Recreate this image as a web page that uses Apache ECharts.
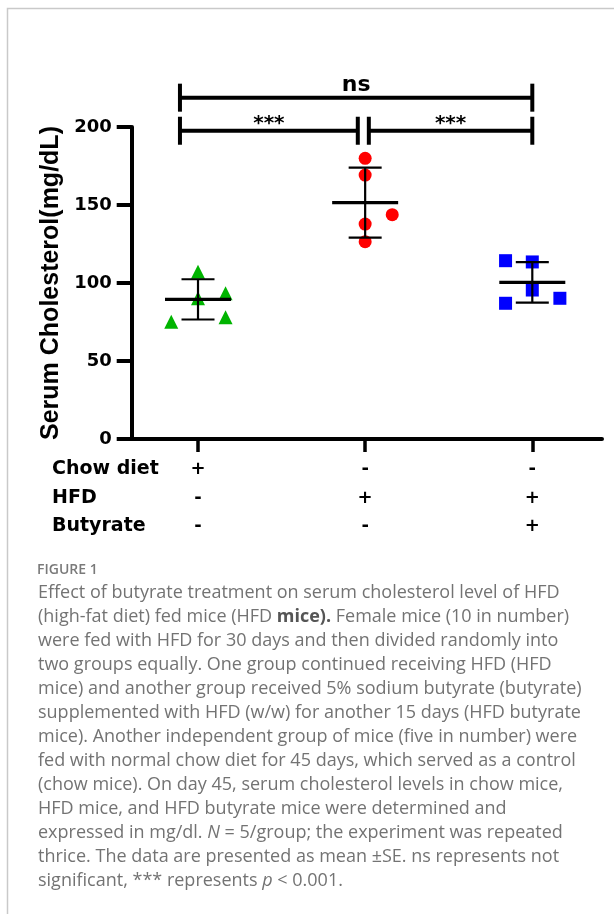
<!DOCTYPE html>
<html>
<head>
<meta charset="utf-8">
<script src="https://cdn.jsdelivr.net/npm/echarts@6/dist/echarts.min.js"></script>
<style>
html,body{margin:0;padding:0;background:#fff;}
#chart{width:614px;height:914px;}
</style>
</head>
<body>
<div id="chart"></div>
<script>
// ---------- data ----------
const groupPositions = [1, 2, 3];
const chowValues = [75.2, 107.2, 90.2, 93.4, 78.0];
const chowJitter = [-0.16, 0, 0, 0.165, 0.165];
const hfdValues = [179.9, 169.2, 143.8, 137.8, 126.5];
const hfdJitter = [0, 0, 0.162, 0, 0];
const butyrateValues = [114.3, 113.5, 95.5, 90.2, 87.0];
const butyrateJitter = [-0.16, 0, 0, 0.165, -0.16];
const meanValues = [89.5, 151.5, 100.4];
const errorValues = [12.9, 22.4, 13.0];
const yTicks = [0, 50, 100, 150, 200];
const rowLabels = ['Chow diet', 'HFD', 'Butyrate'];
const chowDietRow = ['+', '-', '-'];
const hfdRow = ['-', '+', '+'];
const butyrateRow = ['-', '-', '+'];
const sigFrom = [0.892, 2.022, 0.892];
const sigTo = [1.956, 3.0, 3.0];
const sigLevel = [197.6, 197.6, 218.8];
const sigLabels = ['***', '***', 'ns'];
const yAxisTitle = 'Serum Cholesterol(mg/dL)';
const figureLabel = 'FIGURE 1';
const captionLines = [
  'Effect of butyrate treatment on serum cholesterol level of HFD',
  '(high-fat diet) fed mice (HFD {b|mice).} Female mice (10 in number)',
  'were fed with HFD for 30 days and then divided randomly into',
  'two groups equally. One group continued receiving HFD (HFD',
  'mice) and another group received 5% sodium butyrate (butyrate)',
  'supplemented with HFD (w/w) for another 15 days (HFD butyrate',
  'mice). Another independent group of mice (five in number) were',
  'fed with normal chow diet for 45 days, which served as a control',
  '(chow mice). On day 45, serum cholesterol levels in chow mice,',
  'HFD mice, and HFD butyrate mice were determined and',
  'expressed in mg/dl. {i|N} = 5/group; the experiment was repeated',
  'thrice. The data are presented as mean \u00B1SE. ns represents not',
  'significant, *** represents {i|p} < 0.001.'
];

// ---------- build ----------
const BOLD = 'DejaVu Sans';
function pts(vals, jit, g) { return vals.map((v, i) => [groupPositions[g] + jit[i], v]); }
const errData = groupPositions.map((x, i) => [x, meanValues[i], errorValues[i]]);
const sigData = sigFrom.map((f, i) => [f, sigTo[i], sigLevel[i], i]);

const chart = echarts.init(document.getElementById('chart'), null, {renderer: 'canvas'});

const captionFont = '"Open Sans", sans-serif';
const captionColor = '#737373';
const graphics = [
  {type: 'polyline', silent: true, shape: {points: [[7.5, 914], [7.5, 8.5], [614, 8.5]]},
   style: {stroke: '#c9c9c9', lineWidth: 1.5, fill: null}},
  {type: 'text', left: 37, top: 563, style: {text: figureLabel, fontFamily: captionFont, fontWeight: 600, fontSize: 14, fill: '#7a7a7a'}}
];
captionLines.forEach((t, k) => {
  graphics.push({type: 'text', left: 38, top: 583.5 + k * 24.03, style: {
    text: t, fontFamily: captionFont, fontSize: 18, fill: captionColor,
    rich: {b: {fontFamily: captionFont, fontSize: 18, fontWeight: 'bold', fill: '#555'},
           i: {fontFamily: captionFont, fontSize: 18, fontStyle: 'italic', fill: captionColor}}
  }});
});
rowLabels.forEach((t, k) => {
  graphics.push({type: 'text', left: 52, top: 460 + k * 28.5, style: {
    text: t, fontFamily: BOLD, fontWeight: 'bold', fontSize: 19, fill: '#000'}});
});

const option = {
  backgroundColor: '#fff',
  animation: false,
  grid: {left: 131.7, right: 12, top: 127, bottom: 475},
  xAxis: {
    type: 'value', min: 0.6033, max: 3.417,
    splitLine: {show: false},
    axisLine: {show: true, lineStyle: {color: '#000', width: 4}},
    axisTick: {show: true, customValues: groupPositions, length: 13, lineStyle: {color: '#000', width: 3.5}},
    axisLabel: {
      show: true, customValues: groupPositions, margin: 16.5, lineHeight: 28.5,
      fontFamily: BOLD, fontWeight: 'bold', fontSize: 18, color: '#000',
      formatter: function (v) {
        const i = groupPositions.indexOf(Math.round(v));
        if (i < 0) return '';
        return [chowDietRow[i], hfdRow[i], butyrateRow[i]].join('\n');
      }
    }
  },
  yAxis: {
    type: 'value', min: yTicks[0], max: yTicks[yTicks.length - 1], interval: 50,
    splitLine: {show: false},
    axisLine: {show: true, lineStyle: {color: '#000', width: 4}},
    axisTick: {show: true, length: 15, lineStyle: {color: '#000', width: 4}},
    axisLabel: {margin: 20, fontFamily: BOLD, fontWeight: 'bold', fontSize: 18, color: '#000'},
    name: yAxisTitle, nameLocation: 'middle', nameGap: 62, nameRotate: 90,
    nameTextStyle: {fontFamily: 'Liberation Sans', fontWeight: 'bold', fontSize: 25, color: '#000'}
  },
  graphic: graphics,
  series: [
    {type: 'scatter', data: pts(chowValues, chowJitter, 0), symbol: 'triangle', symbolSize: 14,
     itemStyle: {color: '#00b400', opacity: 1}, z: 2},
    {type: 'scatter', data: pts(hfdValues, hfdJitter, 1), symbol: 'circle', symbolSize: 13,
     itemStyle: {color: '#ff0000', opacity: 1}, z: 2},
    {type: 'scatter', data: pts(butyrateValues, butyrateJitter, 2), symbol: 'rect', symbolSize: 13,
     itemStyle: {color: '#0000ff', opacity: 1}, z: 2},
    {type: 'custom', data: errData, z: 3, clip: false,
     renderItem: function (params, api) {
       const x = api.value(0), m = api.value(1), e = api.value(2);
       const c = api.coord([x, m]), t = api.coord([x, m + e]), b = api.coord([x, m - e]);
       const st = {stroke: '#000', lineWidth: 2.2};
       return {type: 'group', children: [
         {type: 'line', shape: {x1: t[0], y1: t[1], x2: b[0], y2: b[1]}, style: st},
         {type: 'line', shape: {x1: t[0] - 16.5, y1: t[1], x2: t[0] + 16.5, y2: t[1]}, style: st},
         {type: 'line', shape: {x1: b[0] - 16.5, y1: b[1], x2: b[0] + 16.5, y2: b[1]}, style: st},
         {type: 'line', shape: {x1: c[0] - 33, y1: c[1], x2: c[0] + 33, y2: c[1]}, style: {stroke: '#000', lineWidth: 3.4}}
       ]};
     }},
    {type: 'custom', data: sigData, z: 4, clip: false,
     renderItem: function (params, api) {
       const f = api.value(0), t = api.value(1), lv = api.value(2), idx = api.value(3);
       const p1 = api.coord([f, lv]), p2 = api.coord([t, lv]);
       const st = {stroke: '#000', lineWidth: 4};
       const label = sigLabels[idx];
       const isStar = label.indexOf('*') >= 0;
       return {type: 'group', children: [
         {type: 'line', shape: {x1: p1[0], y1: p1[1], x2: p2[0], y2: p2[1]}, style: st},
         {type: 'line', shape: {x1: p1[0], y1: p1[1] - 14, x2: p1[0], y2: p1[1] + 14}, style: st},
         {type: 'line', shape: {x1: p2[0], y1: p2[1] - 14, x2: p2[0], y2: p2[1] + 14}, style: st},
         {type: 'text', style: {x: (p1[0] + p2[0]) / 2, y: p1[1] - (isStar ? 7 : 12),
           text: label, align: 'center', verticalAlign: 'middle',
           fontFamily: BOLD, fontWeight: 'bold', fontSize: isStar ? 20 : 22, fill: '#000'}}
       ]};
     }}
  ]
};
chart.setOption(option);
</script>
</body>
</html>
